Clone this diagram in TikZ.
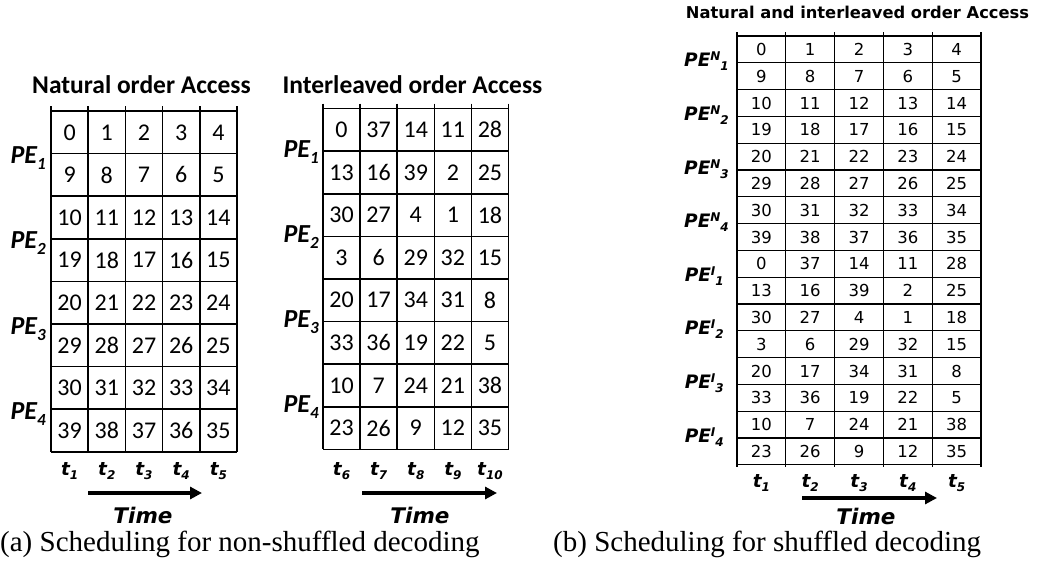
\documentclass[tikz,border=0pt]{standalone}
\usepackage{fontspec}
\usetikzlibrary{arrows.meta}
\setmainfont{Liberation Serif}
\newfontfamily\calfont{Carlito}
\newfontfamily\dvfont{DejaVu Sans}

\newcommand{\pesub}[1]{PE\raisebox{-6pt}{\fontsize{17}{17}\selectfont #1}}
\newcommand{\pemix}[2]{PE\raisebox{6pt}{\fontsize{12}{12}\selectfont #1}\raisebox{-4pt}{\fontsize{12}{12}\selectfont #2}}
\newcommand{\tsub}[1]{t\raisebox{-4pt}{\fontsize{12}{12}\selectfont #1}}

\begin{document}
\begin{tikzpicture}[x=1pt,y=-1pt,
  tabline/.style={line width=1.6pt},
  thinline/.style={line width=1.3pt},
  calnum/.style={font=\calfont\fontsize{24}{24}\selectfont, inner sep=0pt},
  dvnum/.style={font=\dvfont\fontsize{16.5}{16.5}\selectfont, inner sep=0pt},
  pelabel/.style={font=\calfont\bfseries\itshape\fontsize{26}{26}\selectfont, inner sep=0pt, anchor=base east},
  pemixlabel/.style={font=\dvfont\bfseries\itshape\fontsize{18.5}{18.5}\selectfont, inner sep=0pt, anchor=base east},
  tlabel/.style={font=\dvfont\bfseries\itshape\fontsize{18.5}{18.5}\selectfont, inner sep=0pt, anchor=base},
  title/.style={font=\calfont\bfseries\fontsize{25.5}{25.5}\selectfont, inner sep=0pt, anchor=base},
  timelabel/.style={font=\dvfont\bfseries\itshape\fontsize{21.5}{21.5}\selectfont, inner sep=0pt, anchor=base},
  caption/.style={font=\fontsize{29}{29}\selectfont, inner sep=0pt, anchor=base west},
  timearrow/.style={line width=4pt, -{Triangle[length=12pt,width=12pt]}}]
\useasboundingbox (0,0) rectangle (1039,586);

% natural order table
\node[title] (nattitle) at (141.5,93) {Natural order Access};
\foreach \c in {0,...,5} \draw[tabline] ({51+37.2*\c},106) -- ({51+37.2*\c},451.8);
\foreach \r in {0,...,8} \draw[tabline] (51,{111+42.6*\r}) -- (237,{111+42.6*\r});
\foreach \row [count=\r from 0] in {{0,1,2,3,4},{9,8,7,6,5},{10,11,12,13,14},{19,18,17,16,15},
    {20,21,22,23,24},{29,28,27,26,25},{30,31,32,33,34},{39,38,37,36,35}}
  \foreach \v [count=\c from 0] in \row
    \node[calnum] (nat-\r-\c) at ({51+37.2*(\c+0.5)},{111+42.6*(\r+0.5)}) {\v};
\foreach \g in {1,...,4}
  \node[pelabel] (natpe-\g) at (46,{111+42.6*(2*\g-1)+10}) {\pesub{\g}};
\foreach \i in {1,...,5}
  \node[tlabel] (natt-\i) at ({51+37.2*(\i-0.5)},475) {\tsub{\i}};
\coordinate (natfrom) at (88,493);
\coordinate (natto) at (202,493);
\draw[timearrow] (natfrom) -- (natto);
\node[timelabel] (nattime) at (143,523) {Time};

% interleaved order table
\node[title] (ilvtitle) at (412.5,93) {Interleaved order Access};
\foreach \c in {0,...,5} \draw[tabline] ({323+37.1*\c},103.5) -- ({323+37.1*\c},449.3);
\foreach \r in {0,...,8} \draw[tabline] (323,{108.5+42.6*\r}) -- (508.5,{108.5+42.6*\r});
\foreach \row [count=\r from 0] in {{0,37,14,11,28},{13,16,39,2,25},{30,27,4,1,18},{3,6,29,32,15},
    {20,17,34,31,8},{33,36,19,22,5},{10,7,24,21,38},{23,26,9,12,35}}
  \foreach \v [count=\c from 0] in \row
    \node[calnum] (ilv-\r-\c) at ({323+37.1*(\c+0.5)},{108.5+42.6*(\r+0.5)}) {\v};
\foreach \g in {1,...,4}
  \node[pelabel] (ilvpe-\g) at (319,{108.5+42.6*(2*\g-1)+6}) {\pesub{\g}};
\foreach \i [evaluate=\i as \n using int(\i+5)] in {1,...,5}
  \node[tlabel] (ilvt-\i) at ({323+37.1*(\i-0.5)},475) {\tsub{\n}};
\coordinate (ilvfrom) at (362,493);
\coordinate (ilvto) at (497,493);
\draw[timearrow] (ilvfrom) -- (ilvto);
\node[timelabel] (ilvtime) at (420,523) {Time};

% natural and interleaved table
\node[title, font=\dvfont\bfseries\fontsize{16.3}{16.3}\selectfont] (mixtitle) at (857.5,19) {Natural and interleaved order Access};
\foreach \c in {0,...,5} \draw[thinline] ({737+48.8*\c},32.5) -- ({737+48.8*\c},467);
\foreach \r in {0,...,16} \draw[thinline] (737,{36+26.8*\r}) -- (981,{36+26.8*\r});
\foreach \row [count=\r from 0] in {{0,1,2,3,4},{9,8,7,6,5},{10,11,12,13,14},{19,18,17,16,15},
    {20,21,22,23,24},{29,28,27,26,25},{30,31,32,33,34},{39,38,37,36,35},
    {0,37,14,11,28},{13,16,39,2,25},{30,27,4,1,18},{3,6,29,32,15},
    {20,17,34,31,8},{33,36,19,22,5},{10,7,24,21,38},{23,26,9,12,35}}
  \foreach \v [count=\c from 0] in \row
    \node[dvnum] (mix-\r-\c) at ({737+48.8*(\c+0.5)},{36+26.8*(\r+0.5)}) {\v};
\foreach \g in {1,...,4}
  \node[pemixlabel] (mixpen-\g) at (729,{36+26.8*(2*\g-1)+4}) {\pemix{N}{\g}};
\foreach \g in {1,...,4}
  \node[pemixlabel] (mixpei-\g) at (724,{36+26.8*(2*\g+7)+4}) {\pemix{I}{\g}};
\foreach \i in {1,...,5}
  \node[tlabel] (mixt-\i) at ({737+48.8*(\i-0.5)},487) {\tsub{\i}};
\coordinate (mixfrom) at (802,498);
\coordinate (mixto) at (937,498);
\draw[timearrow, line width=3.5pt] (mixfrom) -- (mixto);
\node[timelabel] (mixtime) at (866,524) {Time};

% captions
\node[caption] (capa) at (0,551) {(a) Scheduling for non-shuffled decoding};
\node[caption] (capb) at (553,551) {(b) Scheduling for shuffled decoding};
\end{tikzpicture}
\end{document}
